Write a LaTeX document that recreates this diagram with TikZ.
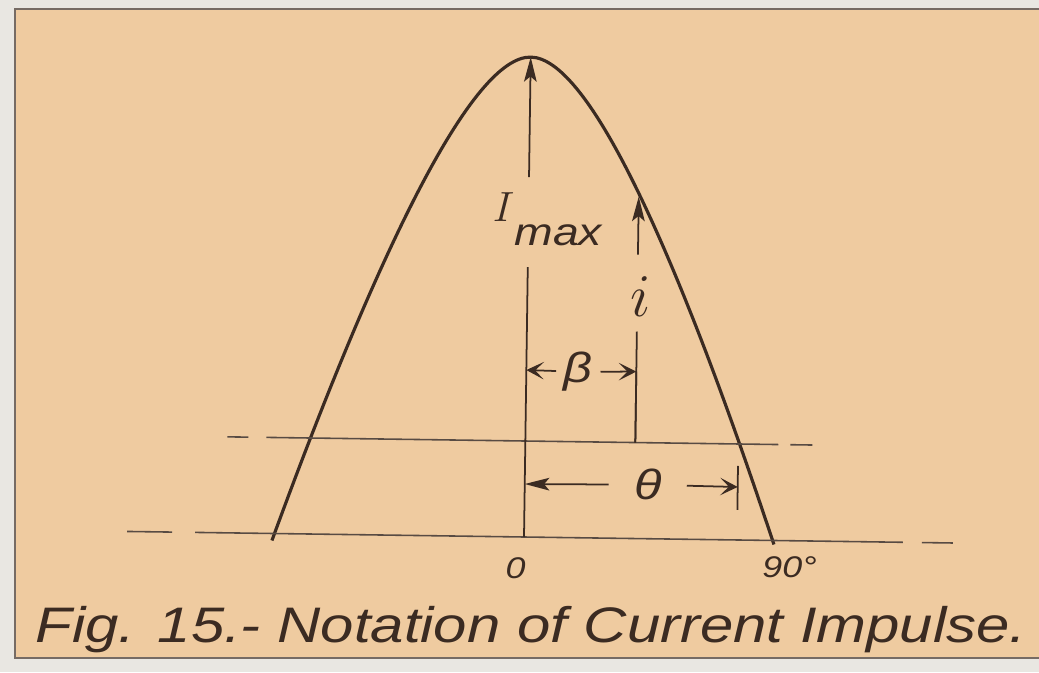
\documentclass[tikz,border=0pt]{standalone}
\usepackage{fontspec}
\usepackage{tikz}
\usetikzlibrary{arrows.meta}

\newfontfamily\handfont{Liberation Sans}[FakeStretch=1.2]
\definecolor{paper}{HTML}{EFCBA0}
\definecolor{ink}{HTML}{3B2B22}
\definecolor{margin}{HTML}{E9E7E2}

\tikzset{
  curve/.style={ink, line width=0.9pt},
  guide/.style={ink!85, line width=0.45pt},
  dimline/.style={ink, line width=0.5pt},
  tipup/.style={dimline, -{Stealth[length=7pt,width=3.6pt,inset=1.5pt]}},
  barb/.style={dimline, -{Stealth[length=5pt,width=5pt,inset=2.5pt]}},
  hand/.style={ink, inner sep=2pt, font=\handfont\itshape\fontsize{#1}{#1}\selectfont},
}

\begin{document}
\begin{tikzpicture}
  \useasboundingbox (0,0) rectangle (10.39,6.72);
  \fill[margin] (0,0) rectangle (10.39,6.72);
  \filldraw[fill=paper, draw=ink!70, line width=0.5pt] (0.15,0.14) rectangle (10.45,6.63);

  \begin{scope}[shift={(5.24,1.35)}, rotate=-0.8]
    \coordinate (O) at (0,0);
    \coordinate (peak) at (0,4.80);
    \coordinate (imaxtop) at (0,3.60);
    \coordinate (imaxbot) at (0,2.70);
    \coordinate (ibase) at (1.10,0.96);
    \coordinate (ilo) at (1.10,2.07);
    \coordinate (ihi) at (1.10,2.84);
    \coordinate (itop) at (1.10,3.42);
    \coordinate (bleft) at (0,1.67);
    \coordinate (bright) at (1.10,1.67);
    \coordinate (tleft) at (0,0.53);
    \coordinate (tright) at (2.13,0.53);
    \coordinate (tickhi) at (2.13,0.74);
    \coordinate (ticklo) at (2.13,0.30);

    % current impulse
    \draw[curve] (-2.52,-0.07) .. controls (-1.48,2.90) and (-0.58,4.80) .. (peak)
      .. controls (0.58,4.80) and (1.48,2.90) .. (2.50,-0.04);

    % base line and level line
    \draw[guide] (-3.97,0) -- (-3.52,0) (-3.29,0) -- (3.79,0) (3.98,0) -- (4.29,0);
    \draw[guide] (-2.98,0.96) -- (-2.77,0.96) (-2.59,0.96) -- (2.53,0.96) (2.65,0.96) -- (2.87,0.96);

    % I max
    \node[ink] (imax) at (0.19,3.18)
      {\fontsize{13}{13}\selectfont$I$\raisebox{-7pt}{\handfont\itshape\fontsize{11}{11}\selectfont max}};
    \draw[tipup] (imaxtop) -- (peak);
    \draw[dimline] (imaxbot) -- (O);

    % i
    \node[ink, font=\fontsize{19}{19}\selectfont] (ilabel) at (1.13,2.42) {$i$};
    \draw[tipup] (ihi) -- (itop);
    \draw[dimline] (ibase) -- (ilo);

    % beta
    \node[hand=12] (beta) at (0.52,1.66) {β};
    \draw[barb] (beta) -- (bleft);
    \draw[barb] (beta) -- (bright);
    \draw[dimline] (ibase) -- (bright);

    % theta
    \node[hand=12, inner xsep=7pt] (theta) at (1.23,0.54) {θ};
    \draw[tipup] (theta) -- (tleft);
    \draw[barb] (theta) -- (tright);
    \draw[dimline] (ticklo) -- (tickhi);

    \node[hand=8.5] (zero) at (-0.08,-0.31) {0};
    \node[hand=8.5] (ninety) at (2.66,-0.27) {90°};
  \end{scope}

  \node[hand=14.2, anchor=base west] (caption) at (0.28,0.30)
    {Fig. 15.- Notation of Current Impulse.};
\end{tikzpicture}
\end{document}
